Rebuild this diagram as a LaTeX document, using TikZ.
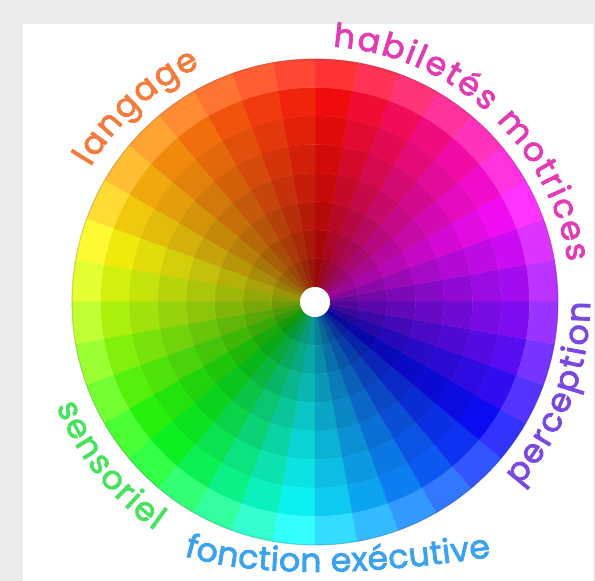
\documentclass[tikz,border=0pt]{standalone}
\usepackage{fontspec}
\newfontfamily\labelfont{Poppins}[FakeBold=2.5]
\usetikzlibrary{calc,decorations.text}
\definecolor{framegray}{RGB}{235,235,235}
\definecolor{labelorange}{RGB}{245,123,61}
\definecolor{labelpink}{RGB}{226,60,180}
\definecolor{labelviolet}{RGB}{123,72,224}
\definecolor{labelgreen}{RGB}{72,227,94}
\definecolor{labelblue}{RGB}{59,162,238}
\tikzset{wheeltext/.style={decorate, decoration={text along path, text align=fit to path, text color=#1}}}
\newcommand{\ArcLabel}[5]% #1=text, #2=colour, #3=radius, #4=start angle, #5=end angle
{\path[wheeltext=#2, decoration={text={|\labelfont\fontsize{33}{38}\selectfont|#1}}]
   ($(O)+(#4:#3)$) arc (#4:#5:#3);
}

\begin{document}
\begin{tikzpicture}[x=1pt,y=1pt]

    \useasboundingbox (0,0) rectangle (595,581);
    \fill[framegray] (0,0) rectangle (595,581);
    \fill[white] (23,0) rectangle (593,557);

    \coordinate (O) at (315,279);

    % 36 hues, 8 rings, darker towards the middle
    \foreach \i in {0,...,35}{
      \foreach \k in {1,...,8}{
        \pgfmathsetmacro{\t}{mod(10*\i+5-85+360,360)}
        \pgfmathsetmacro{\hue}{(\t-ifthenelse(\t<180,22*sin(\t),0))/360}
        \pgfmathsetmacro{\sat}{ifthenelse(\k==8,0.8,0.95)}
        \pgfmathsetmacro{\bri}{0.6+0.4*(\k-1)/7}
        \pgfmathsetmacro{\ri}{15+228*(\k-1)/8}
        \pgfmathsetmacro{\ro}{15+228*\k/8}
        \pgfmathsetmacro{\a}{10*\i}
        \pgfmathsetmacro{\b}{10*\i+10}
        \convertcolorspec{hsb}{\hue,\sat,\bri}{rgb}\cellrgb
        \definecolor{cell}{rgb}{\cellrgb}
        \fill[cell, draw=cell, line width=0.3pt]
          ($(O)+(\a:\ri pt)$) arc (\a:\b:\ri pt)
          -- ($(O)+(\b:\ro pt)$) arc (\b:\a:\ro pt) -- cycle;
      }
    }
    \draw[black, opacity=0.15, line width=1.2pt] (O) circle (243pt);
    \fill[white] (O) circle (15pt);

    \ArcLabel{langage}{labelorange}{262pt}{149}{116}
    \ArcLabel{habiletés motrices}{labelpink}{256pt}{86}{9}
    \ArcLabel{perception}{labelviolet}{275pt}{-42}{0}
    \ArcLabel{sensoriel}{labelgreen}{279pt}{202}{235}

    \coordinate (F1) at (184,25);
    \coordinate (F2) at (491,24);
    \path[wheeltext=labelblue,
          decoration={text={|\labelfont\fontsize{33}{38}\selectfont|fonction exécutive}}]
      (F1) .. controls (255,4) and (357,4) .. (F2);

\end{tikzpicture}
\end{document}
